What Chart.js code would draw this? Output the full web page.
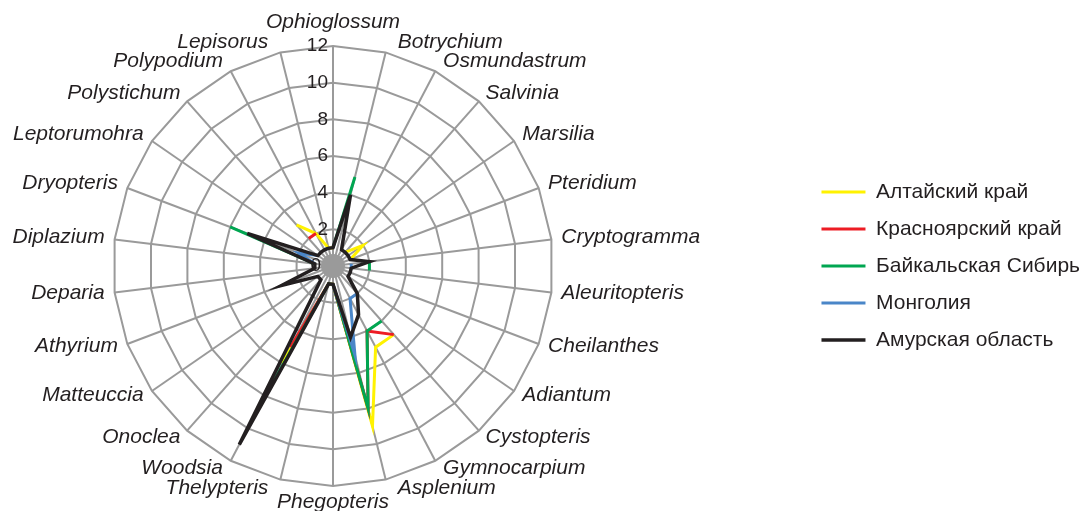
<!DOCTYPE html>
<html>
<head>
<meta charset="utf-8">
<script src="https://cdn.jsdelivr.net/npm/chart.js@4/dist/chart.umd.min.js"></script>
<style>
html,body{margin:0;padding:0;background:#ffffff;}
#wrap{width:1083px;height:511px;position:relative;}
</style>
</head>
<body>
<div id="wrap"><canvas id="c"></canvas></div>
<script>
// ---- data ----
const genera = ['Ophioglossum','Botrychium','Osmundastrum','Salvinia','Marsilia','Pteridium','Cryptogramma','Aleuritopteris','Cheilanthes','Adiantum','Cystopteris','Gymnocarpium','Asplenium','Phegopteris','Thelypteris','Woodsia','Onoclea','Matteuccia','Athyrium','Deparia','Diplazium','Dryopteris','Leptorumohra','Polystichum','Polypodium','Lepisorus'];
const seriesNames = ['Алтайский край','Красноярский край','Байкальская Сибирь','Монголия','Амурская область'];
const altai       = [1, null, null, 1, 2, 1, null, null, null, null, 5, 5, 9, 1, 1, 6, null, null, null, null, null, null, null, 3, 2, 1];
const krasnoyarsk = [null, null, null, null, null, null, null, null, null, null, 5, 4, 8, 1, 1, 5, null, null, null, null, null, null, null, 2, 2, null];
const baikal      = [1, 5, null, null, null, null, 2, 2, null, null, 4, 4, 8, 1, 1, 9, null, null, null, null, 1, 6, null, null, null, null];
const mongolia    = [null, null, null, null, null, null, 1, 1, null, null, 2, 2, 5, 1, null, null, null, null, null, null, 1, 2, 1, null, 1, 1];
const amur        = [1, 4, 1, 1, 1, 1, 2, 1, 1, 1, 2, 3, 4, 1, 1, 11, 1, 1, 3, 1, 1, 5, 1, 1, 1, 1];
const tickValues  = [0, 2, 4, 6, 8, 10, 12];
const tickLabels  = ['0', '2', '4', '6', '8', '10', '12'];

const colors = ['#fff200', '#ed1c24', '#00a651', '#4a86c8', '#231f20'];
const widths = [3, 3, 3, 3, 3.5];
const allSeries = [altai, krasnoyarsk, baikal, mongolia, amur];

const GRID = '#9a9a9a';
const TEXT = '#231f20';

// center hub + tick labels (drawn under the data lines)
const hubPlugin = {
  id: 'hub',
  beforeDatasetsDraw(chart) {
    const s = chart.scales.r, ctx = chart.ctx;
    ctx.save();
    ctx.fillStyle = GRID;
    ctx.beginPath();
    ctx.arc(s.xCenter, s.yCenter, 12, 0, Math.PI * 2);
    ctx.fill();
    ctx.font = '19px "Liberation Sans", Arial, sans-serif';
    ctx.fillStyle = TEXT;
    ctx.textAlign = 'right';
    ctx.textBaseline = 'middle';
    tickValues.forEach((v, i) => {
      const d = s.getDistanceFromCenterForValue(v);
      const off = v === 0 ? 12 : 5;
      ctx.fillText(tickLabels[i], s.xCenter - off, s.yCenter - d);
    });
    ctx.restore();
  }
};

// genus labels around the web, placed outside the outer ring
const genusLabelPlugin = {
  id: 'genusLabels',
  afterDraw(chart) {
    const s = chart.scales.r, ctx = chart.ctx;
    ctx.save();
    ctx.font = 'italic 21px "Liberation Sans", Arial, sans-serif';
    ctx.fillStyle = TEXT;
    ctx.textBaseline = 'middle';
    const R = s.drawingArea, pad = 10, clear = R + 1, h = 24;
    chart.data.labels.forEach((lab, i) => {
      const p = s.getPointPosition(i, R + pad);
      const dx = p.x - s.xCenter, dy = p.y - s.yCenter;
      if (Math.abs(dx) < 1) {
        ctx.textAlign = 'center';
        ctx.fillText(lab, p.x, dy < 0 ? p.y - 14 : p.y + 6);
      } else {
        const side = Math.sign(dx);
        const cy = Math.max(0, Math.abs(dy) - h / 2);
        let ex = Math.abs(dx);
        if (cy < clear) ex = Math.max(ex, Math.sqrt(clear * clear - cy * cy));
        ctx.textAlign = side > 0 ? 'left' : 'right';
        ctx.fillText(lab, s.xCenter + side * ex, p.y - 1);
      }
    });
    ctx.restore();
  }
};

const datasets = allSeries.map((vals, i) => ({
  label: seriesNames[i],
  data: vals,
  borderColor: colors[i],
  backgroundColor: colors[i],
  borderWidth: widths[i],
  pointRadius: 0,
  pointHoverRadius: 0,
  fill: false,
  tension: 0,
  spanGaps: false,
  order: allSeries.length - i
}));

new Chart(document.getElementById('c'), {
  type: 'radar',
  data: { labels: genera, datasets },
  options: {
    responsive: true,
    maintainAspectRatio: false,
    animation: false,
    layout: { padding: { left: 113, top: 46, bottom: 25, right: -7 } },
    plugins: {
      legend: {
        position: 'right',
        align: 'center',
        labels: {
          usePointStyle: true,
          pointStyle: 'line',
          pointStyleWidth: 44,
          boxHeight: 21,
          color: TEXT,
          font: { family: '"Liberation Sans", Arial, sans-serif', size: 21 },
          padding: 16,
          sort: (a, b) => a.datasetIndex - b.datasetIndex
        }
      },
      tooltip: { enabled: false }
    },
    scales: {
      r: {
        min: 0,
        max: 12,
        beginAtZero: true,
        ticks: { stepSize: 2, display: false },
        grid: { circular: false, color: GRID, lineWidth: 2 },
        angleLines: { display: true, color: GRID, lineWidth: 2 },
        pointLabels: { display: false },
        afterSetDimensions: (s) => { s.xCenter = s.left + s.drawingArea; }
      }
    }
  },
  plugins: [hubPlugin, genusLabelPlugin]
});
</script>
</body>
</html>
